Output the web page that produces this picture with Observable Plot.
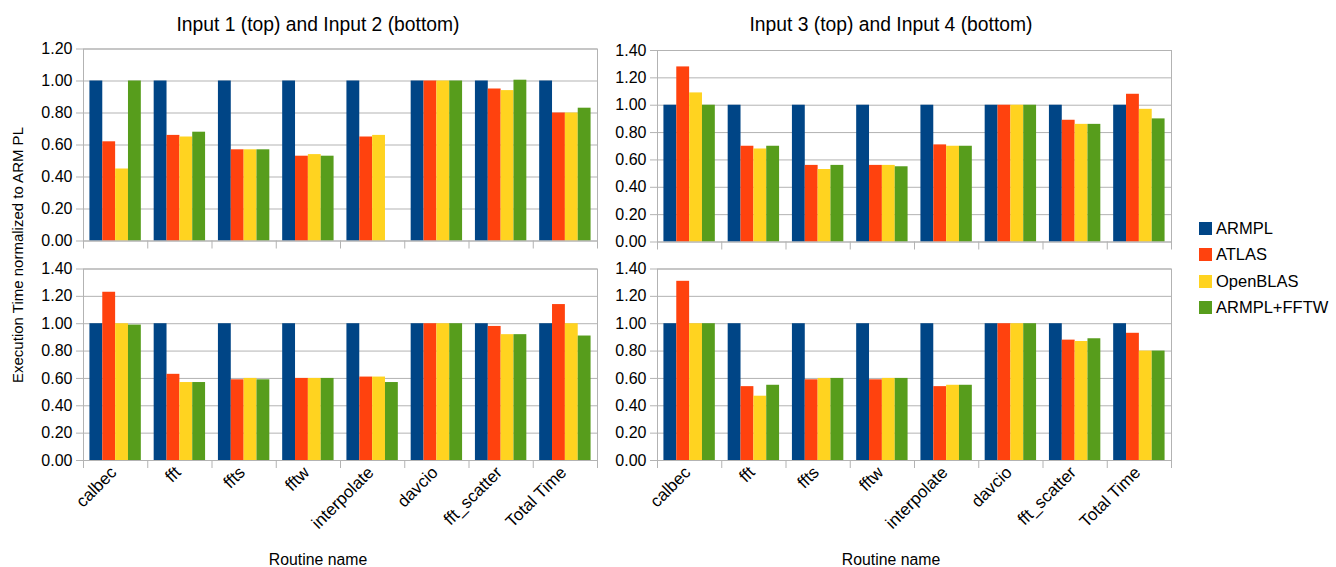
<!DOCTYPE html>
<html>
<head>
<meta charset="utf-8">
<script src="https://cdn.jsdelivr.net/npm/d3@7"></script>
<script src="https://cdn.jsdelivr.net/npm/@observablehq/plot@0.6"></script>
<style>
  body { margin: 0; background: #fff; font-family: "Liberation Sans", Arial, sans-serif; color: #000; }
  #chart { position: relative; width: 1336px; height: 567px; overflow: hidden; }
  .abs { position: absolute; white-space: nowrap; line-height: 1; }
  .title { font-size: 19.3px; transform: translateX(-50%); }
  .xlabel { font-size: 15.8px; transform: translateX(-50%); }
  .ylabel { font-size: 15px; transform: translate(-50%, -50%) rotate(-90deg); }
  .legend-row { position: absolute; display: flex; align-items: center; font-size: 16.5px; }
  .legend-row span.sw { width: 13px; height: 13px; margin-right: 4px; display: inline-block; }
</style>
</head>
<body>
<div id="chart"></div>
<script>
// Routines on the x axis and the four libraries compared
const routines = ["calbec", "fft", "ffts", "fftw", "interpolate", "davcio", "fft_scatter", "Total Time"];
const libraries = ["ARMPL", "ATLAS", "OpenBLAS", "ARMPL+FFTW"];
const libraryColors = ["#004586", "#ff420e", "#ffd320", "#579d1c"];

// Execution time normalized to ARM PL, one row per library (order of `libraries`)
const input1 = [
  [1, 1, 1, 1, 1, 1, 1, 1],
  [0.62, 0.66, 0.57, 0.53, 0.65, 1.00, 0.95, 0.80],
  [0.45, 0.65, 0.57, 0.54, 0.66, 1.00, 0.94, 0.80],
  [1.00, 0.68, 0.57, 0.53, null, 1.00, 1.005, 0.83]
];
const input2 = [
  [1, 1, 1, 1, 1, 1, 1, 1],
  [1.23, 0.63, 0.59, 0.60, 0.61, 1.00, 0.98, 1.14],
  [1.00, 0.57, 0.60, 0.60, 0.61, 1.00, 0.92, 1.00],
  [0.99, 0.57, 0.59, 0.60, 0.57, 1.00, 0.92, 0.91]
];
const input3 = [
  [1, 1, 1, 1, 1, 1, 1, 1],
  [1.28, 0.70, 0.56, 0.56, 0.71, 1.00, 0.89, 1.08],
  [1.09, 0.68, 0.53, 0.56, 0.70, 1.00, 0.86, 0.97],
  [1.00, 0.70, 0.56, 0.55, 0.70, 1.00, 0.86, 0.90]
];
const input4 = [
  [1, 1, 1, 1, 1, 1, 1, 1],
  [1.31, 0.54, 0.59, 0.59, 0.54, 1.00, 0.88, 0.93],
  [1.00, 0.47, 0.60, 0.60, 0.55, 1.00, 0.87, 0.80],
  [1.00, 0.55, 0.60, 0.60, 0.55, 1.00, 0.89, 0.80]
];

const panelTitles = ["Input 1 (top) and Input 2 (bottom)", "Input 3 (top) and Input 4 (bottom)"];
const xTitle = "Routine name";
const yTitle = "Execution Time normalized to ARM PL";

const chart = document.getElementById("chart");
const grey = "#b3b3b3";
const font = "'Liberation Sans', Arial, sans-serif";

function toRows(values) {
  const rows = [];
  values.forEach((series, j) => series.forEach((v, i) => {
    if (v != null) rows.push({routine: routines[i], i, lib: libraries[j], j, value: v});
  }));
  return rows;
}

function panel({values, yMax, left, top, height, marginTop, marginBottom, labels}) {
  const n = routines.length;
  const k = libraries.length;
  const slot = 0.8 / k; // each group fills 80% of its category
  const yTicks = d3.range(0, yMax + 1e-9, 0.2);
  const svg = Plot.plot({
    width: 600,
    height,
    marginLeft: 83,
    marginRight: 3,
    marginTop,
    marginBottom,
    style: {background: "transparent", fontFamily: font, fontSize: "16px", color: "#000", overflow: "visible"},
    x: {type: "linear", domain: [0, n]},
    y: {domain: [0, yMax]},
    color: {domain: libraries, range: libraryColors},
    marks: [
      Plot.gridY(yTicks, {stroke: grey, strokeOpacity: 1}),
      Plot.rectY(toRows(values), {
        x1: d => d.i + 0.1 + slot * d.j,
        x2: d => d.i + 0.1 + slot * (d.j + 1),
        y1: 0,
        y2: "value",
        fill: "lib"
      }),
      Plot.frame({stroke: grey}),
      Plot.axisY(yTicks, {label: null, tickSize: 7, tickPadding: 4, tickFormat: d => d.toFixed(2), stroke: grey, fill: "#000", fontSize: 16}),
      Plot.axisX(d3.range(n + 1), {label: null, tickSize: 8, stroke: grey, fill: "none"}),
      labels ? Plot.text(routines, {
        x: (d, i) => i + 0.5,
        frameAnchor: "bottom",
        rotate: -45,
        textAnchor: "end",
        dx: 2,
        dy: 13,
        fontSize: 17,
        fill: "#000"
      }) : null
    ]
  });
  svg.style.position = "absolute";
  svg.style.left = left + "px";
  svg.style.top = top + "px";
  chart.appendChild(svg);
}

panel({values: input1, yMax: 1.2, left: 0, top: 0, height: 252, marginTop: 48.5, marginBottom: 11.5, labels: false});
panel({values: input3, yMax: 1.4, left: 574, top: 0, height: 252, marginTop: 50, marginBottom: 10.5, labels: false});
panel({values: input2, yMax: 1.4, left: 0, top: 250, height: 317, marginTop: 18.5, marginBottom: 107, labels: true});
panel({values: input4, yMax: 1.4, left: 574, top: 250, height: 317, marginTop: 18.5, marginBottom: 107, labels: true});

function addText(cls, text, x, y) {
  const el = document.createElement("div");
  el.className = "abs " + cls;
  el.textContent = text;
  el.style.left = x + "px";
  el.style.top = y + "px";
  chart.appendChild(el);
}

addText("title", panelTitles[0], 318, 15);
addText("title", panelTitles[1], 891, 15);
addText("xlabel", xTitle, 318, 552);
addText("xlabel", xTitle, 891, 552);
addText("ylabel", yTitle, 17, 255);

// Legend: one swatch per library
libraries.forEach((lib, j) => {
  const row = document.createElement("div");
  row.className = "legend-row";
  row.style.left = "1199px";
  row.style.top = (228 + 26.5 * j - 9) + "px";
  row.style.height = "18px";
  const sw = document.createElement("span");
  sw.className = "sw";
  sw.style.background = libraryColors[j];
  const label = document.createElement("span");
  label.textContent = lib;
  row.appendChild(sw);
  row.appendChild(label);
  chart.appendChild(row);
});
</script>
</body>
</html>
